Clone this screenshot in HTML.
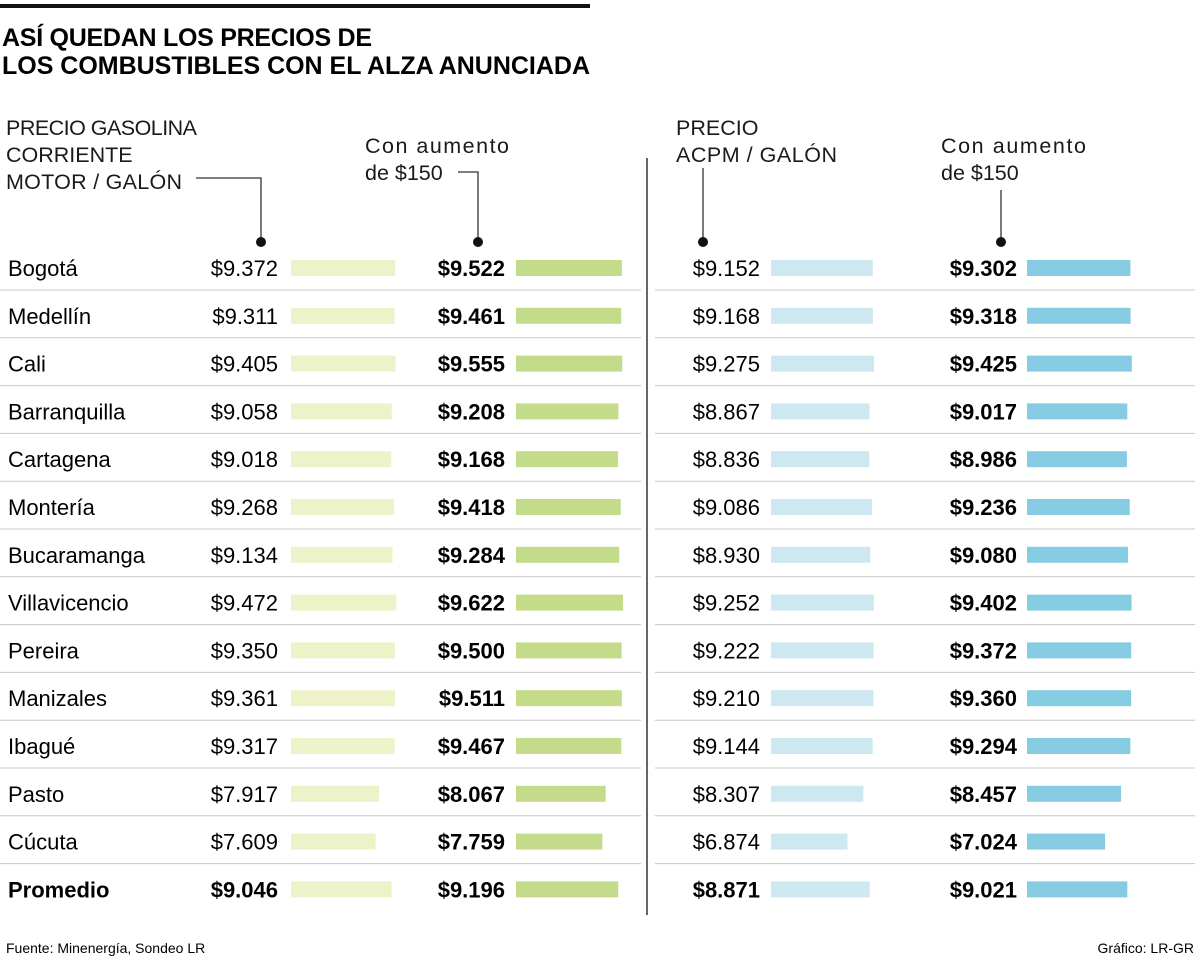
<!DOCTYPE html>
<html><head><meta charset="utf-8">
<style>
body{margin:0;width:1200px;height:961px;background:#fff;font-family:"Liberation Sans",sans-serif;color:#1a1a1a;position:relative;overflow:hidden}
svg{position:absolute;left:0;top:0}
</style></head>
<body>
<svg width="1200" height="961" id="chart">
<rect x="0" y="4" width="590" height="4" fill="#111"/>
<text x="2" y="46" font-size="25" font-weight="bold" textLength="370">ASÍ QUEDAN LOS PRECIOS DE</text>
<text x="2" y="74" font-size="25" font-weight="bold" textLength="588">LOS COMBUSTIBLES CON EL ALZA ANUNCIADA</text>
<g font-size="21.5" fill="#1a1a1a">
<text x="6" y="135" textLength="191">PRECIO GASOLINA</text>
<text x="6" y="162">CORRIENTE</text>
<text x="6" y="189" textLength="176">MOTOR / GALÓN</text>
<text x="365" y="153" textLength="144">Con aumento</text>
<text x="365" y="180">de $150</text>
<text x="676" y="135">PRECIO</text>
<text x="676" y="162" textLength="161">ACPM / GALÓN</text>
<text x="941" y="153" textLength="145">Con aumento</text>
<text x="941" y="180">de $150</text>
</g>
<g stroke="#333" stroke-width="1.3" fill="none">
<polyline points="196,178 261,178 261,240"/>
<polyline points="458,172 478,172 478,240"/>
<line x1="703" y1="168" x2="703" y2="240"/>
<line x1="1001" y1="190" x2="1001" y2="240"/>
</g>
<g fill="#111">
<circle cx="261" cy="242" r="5"/><circle cx="478" cy="242" r="5"/><circle cx="703" cy="242" r="5"/><circle cx="1001" cy="242" r="5"/>
</g>
<line x1="647" y1="158" x2="647" y2="915" stroke="#333" stroke-width="1.5"/>
<g id="rows"></g>
<text x="6" y="953" font-size="14">Fuente: Minenergía, Sondeo LR</text>
<text x="1194" y="953" font-size="14" text-anchor="end">Gráfico: LR-GR</text>
</svg>
<script>
const cities=["Bogotá","Medellín","Cali","Barranquilla","Cartagena","Montería","Bucaramanga","Villavicencio","Pereira","Manizales","Ibagué","Pasto","Cúcuta","Promedio"];
const gasoline=[9372,9311,9405,9058,9018,9268,9134,9472,9350,9361,9317,7917,7609,9046];
const gasolineNew=[9522,9461,9555,9208,9168,9418,9284,9622,9500,9511,9467,8067,7759,9196];
const acpm=[9152,9168,9275,8867,8836,9086,8930,9252,9222,9210,9144,8307,6874,8871];
const acpmNew=[9302,9318,9425,9017,8986,9236,9080,9402,9372,9360,9294,8457,7024,9021];
const NS="http://www.w3.org/2000/svg";
const g=document.getElementById('rows');
const xScale=v=>v*0.01112;
const rowY=i=>268+47.8*i;
function fmt(v){const s=String(v);return "$"+s.slice(0,s.length-3)+"."+s.slice(-3);}
function mk(tag,attrs){const e=document.createElementNS(NS,tag);for(const k in attrs)e.setAttribute(k,attrs[k]);return e;}
const cols=[{d:gasoline,tx:278,bx:291,c:"#eef2c9",b:false},{d:gasolineNew,tx:505,bx:516,c:"#c4db89",b:true},{d:acpm,tx:760,bx:771,c:"#cde8f1",b:false},{d:acpmNew,tx:1017,bx:1027,c:"#85cce3",b:true}];
cities.forEach((name,i)=>{
  const y=rowY(i);const last=i===cities.length-1;
  const t=mk('text',{x:8,y:y+8,'font-size':22,'font-weight':last?'bold':'normal'});
  t.textContent=name;
  
  
  g.appendChild(t);
  cols.forEach((c,j)=>{
    const v=c.d[i];
    const tv=mk('text',{x:c.tx,y:y+8,'font-size':22,'text-anchor':'end','font-weight':(c.b||last)?'bold':'normal'});
    tv.textContent=fmt(v);
    
    
    g.appendChild(tv);
    const r=mk('rect',{x:c.bx,y:y-8,width:xScale(v),height:16,fill:c.c});
    
    
    g.appendChild(r);
  });
  if(!last){
    const l1=mk('line',{x1:0,x2:641,y1:y+22,y2:y+22,stroke:'#c8c8c8','stroke-width':1});
    
    
    g.appendChild(l1);
    const l2=mk('line',{x1:655,x2:1195,y1:y+22,y2:y+22,stroke:'#c8c8c8','stroke-width':1});
    
    
    g.appendChild(l2);
  }
});
</script>
</body></html>
